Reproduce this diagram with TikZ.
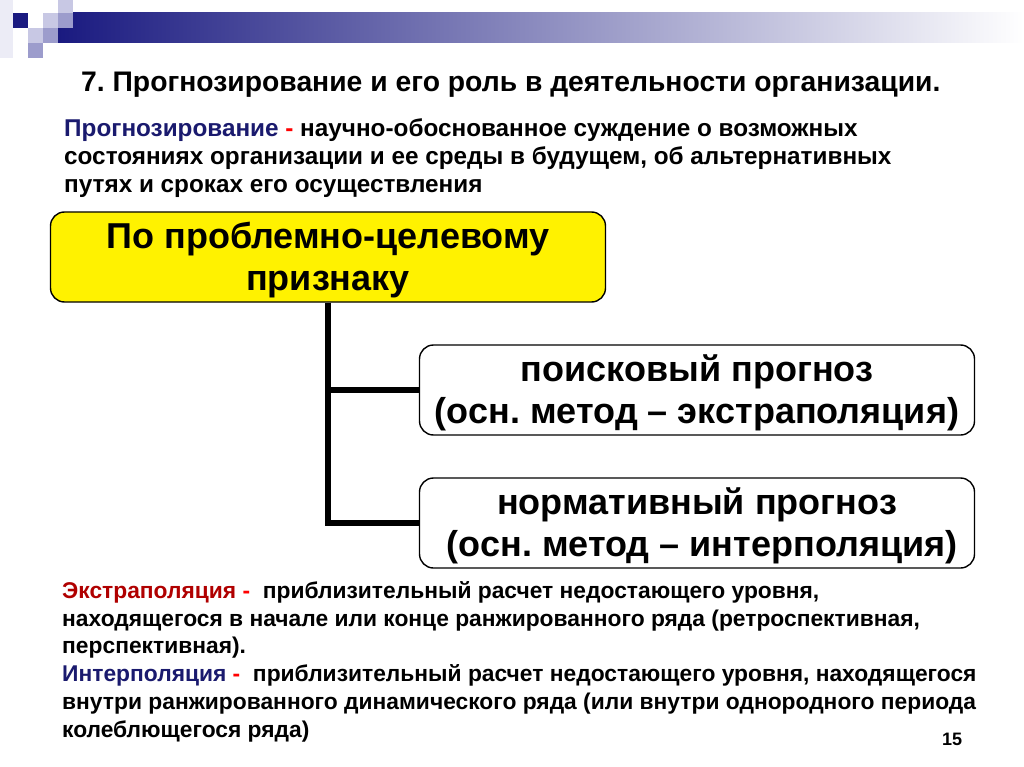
\documentclass[tikz,border=0pt]{standalone}
\usepackage{fontspec}
\setmainfont{Liberation Sans}
\frenchspacing
\definecolor{navy}{HTML}{1A1A80}
\definecolor{dnavy}{HTML}{1A1A6E}
\definecolor{dred}{HTML}{B00000}
\definecolor{lsq}{HTML}{C8C8E4}
\definecolor{msq}{HTML}{9C9CCC}
\definecolor{fsq}{HTML}{ECECF6}
\newcommand{\boxtext}[2]{\raisebox{-4.5pt}[\height][\depth]{\begin{tabular}{@{}c@{}}#1\\#2\end{tabular}}}
\begin{document}
\begin{tikzpicture}[x=1pt,y=-1pt,
  txt/.style={inner sep=0pt,anchor=base west,font=\bfseries\fontsize{22.8}{27}\selectfont},
  deftxt/.style={inner sep=0pt,anchor=base west,font=\bfseries\fontsize{24.3}{28}\selectfont},
  box/.style={draw=black,line width=1.4pt,rounded corners=14pt,minimum width=555pt,minimum height=90pt,inner sep=0pt,font=\bfseries\fontsize{36}{42}\selectfont},
  conn/.style={line width=6pt,draw=black}]
\useasboundingbox (0,0) rectangle (1024,767);
\fill[white] (0,0) rectangle (1024,767);
% header decoration
\fill[fsq] (0,0) rectangle (13,58);
\shade[left color=navy,right color=white] (58,13) rectangle (1024,43);
\fill[navy] (13,13) rectangle (28,28);
\fill[lsq] (43,13) rectangle (58,28);
\fill[lsq] (58,0) rectangle (73,13);
\fill[msq] (58,13) rectangle (73,28);
\fill[lsq] (28,28) rectangle (43,43);
\fill[msq] (43,28) rectangle (58,43);
\fill[msq] (28,43) rectangle (43,58);
% title
\node[inner sep=0pt,anchor=base west,font=\bfseries\fontsize{28.3}{32}\selectfont] (title) at (81,92) {7. Прогнозирование и его роль в деятельности организации.};
% definition
\node[deftxt] (d1) at (64,137) {\textcolor{dnavy}{Прогнозирование} \textcolor{red}{-} научно-обоснованное суждение о возможных};
\node[deftxt] (d2) at (64,165) {состояниях организации и ее среды в будущем, об альтернативных};
\node[deftxt] (d3) at (64,193) {путях и сроках его осуществления};
% boxes
\node[box,fill=yellow] (pp) at (328,257) {\boxtext{По проблемно-целевому}{признаку}};
\node[box,fill=white] (b1) at (697,390) {\boxtext{поисковый прогноз}{(осн. метод – экстраполяция)}};
\node[box,fill=white] (b2) at (697,523) {\boxtext{нормативный прогноз}{\ (осн. метод – интерполяция)}};
\draw[conn] (pp.south) |- (b2.west);
\draw[conn] (pp.south) |- (b1.west);
% bottom text
\node[txt] (e1) at (62,598) {\textcolor{dred}{Экстраполяция} \textcolor{red}{-}\ \ приблизительный расчет недостающего уровня,};
\node[txt] (e2) at (62,626) {находящегося в начале или конце ранжированного ряда (ретроспективная,};
\node[txt] (e3) at (62,653) {перспективная).};
\node[txt] (i1) at (62,681) {\textcolor{dnavy}{Интерполяция} \textcolor{red}{-}\ \ приблизительный расчет недостающего уровня, находящегося};
\node[txt] (i2) at (62,709) {внутри ранжированного динамического ряда (или внутри однородного периода};
\node[txt] (i3) at (62,737) {колеблющегося ряда)};
\node[inner sep=0pt,anchor=base west,font=\bfseries\fontsize{18}{21}\selectfont] (pg) at (942,745) {15};
\end{tikzpicture}
\end{document}
